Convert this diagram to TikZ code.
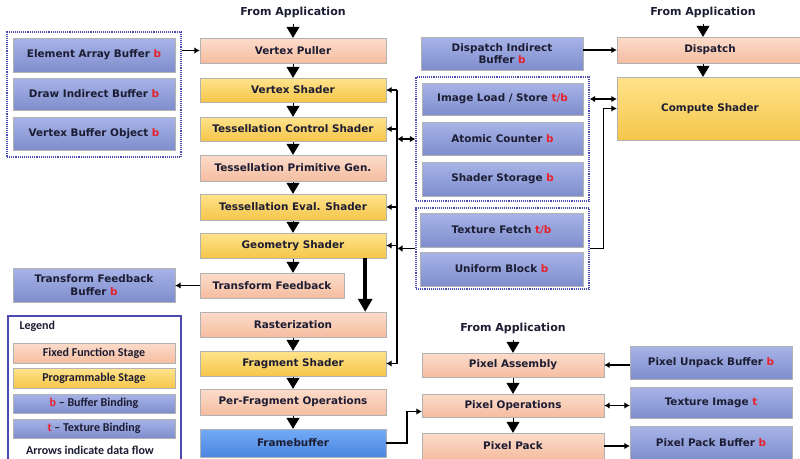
\documentclass[tikz,border=0pt]{standalone}
\usepackage{fontspec}
\setmainfont{DejaVu Sans}
\newfontfamily\legfont{Carlito}
\usetikzlibrary{arrows.meta,shadows}
\definecolor{ffTop}{HTML}{FCDCCB}
\definecolor{ffBot}{HTML}{F5BDA0}
\definecolor{prTop}{HTML}{FFE38C}
\definecolor{prBot}{HTML}{F5C64A}
\definecolor{bfTop}{HTML}{A8B4E8}
\definecolor{bfBot}{HTML}{7E8DCC}
\definecolor{fbTop}{HTML}{74ABF6}
\definecolor{fbBot}{HTML}{4A86E0}
\definecolor{redb}{HTML}{E8202A}
\definecolor{txt}{HTML}{1C1C33}
\definecolor{grpc}{HTML}{4A4AB0}
\newcommand{\rb}[1]{\textcolor{redb}{#1}}
\begin{document}
\begin{tikzpicture}[x=1pt,y=-1pt,
  box/.style={rectangle, inner sep=1pt, align=center, text=txt,
    font=\bfseries\fontsize{10.4}{12.5}\selectfont, draw=black!30, line width=0.4pt,
    drop shadow={shadow xshift=1.2pt, shadow yshift=-1.2pt, opacity=0.35}},
  ff/.style={box, top color=ffTop, bottom color=ffBot},
  pr/.style={box, top color=prTop, bottom color=prBot},
  bf/.style={box, top color=bfTop, bottom color=bfBot},
  fbx/.style={box, top color=fbTop, bottom color=fbBot},
  lg/.style={font=\legfont\bfseries\fontsize{12}{13}\selectfont},
  grp/.style={rectangle, draw=grpc, densely dotted, line width=1.1pt},
  lbl/.style={text=txt, font=\bfseries\fontsize{11}{13}\selectfont, inner sep=1pt},
  bigarr/.style={-{Triangle[width=13pt,length=11pt]}, line width=0.6pt, shorten <=1pt},
  arr/.style={-{Latex[length=5.5pt,width=6.5pt]}, line width=1.7pt},
  arrb/.style={{Latex[length=5.5pt,width=6.5pt]}-{Latex[length=5.5pt,width=6.5pt]}, line width=1.7pt},
  ]
\useasboundingbox (0,0) rectangle (800,458);
\clip (0,0) rectangle (800,458);
\fill[white] (0,0) rectangle (800,458);

% ---- left buffer group
\node[grp, minimum width=174, minimum height=125] (g1) at (94,94.5) {};
\node[bf, minimum width=162, minimum height=34] (eab) at (94,55) {Element Array Buffer \rb{b}};
\node[bf, minimum width=162, minimum height=32] (dib2) at (94,94) {Draw Indirect Buffer \rb{b}};
\node[bf, minimum width=162, minimum height=33] (vbo) at (94,133.5) {Vertex Buffer Object \rb{b}};

% ---- pipeline
\node[lbl] (fa1) at (293,12) {From Application};
\node[ff, minimum width=186, minimum height=25] (vp) at (293,50.5) {Vertex Puller};
\node[pr, minimum width=186, minimum height=24] (vs) at (293,90) {Vertex Shader};
\node[pr, minimum width=186, minimum height=24] (tcs) at (293,129) {Tessellation Control Shader};
\node[ff, minimum width=186, minimum height=26] (tpg) at (293,168) {Tessellation Primitive Gen.};
\node[pr, minimum width=186, minimum height=26] (tes) at (293,207) {Tessellation Eval. Shader};
\node[pr, minimum width=186, minimum height=25] (gs) at (293,245.5) {Geometry Shader};
\node[ff, minimum width=144, minimum height=25] (tf) at (272,285.5) {Transform Feedback};
\node[ff, minimum width=186, minimum height=25] (ras) at (293,324.5) {Rasterization};
\node[pr, minimum width=186, minimum height=25] (fs) at (293,363.5) {Fragment Shader};
\node[ff, minimum width=186, minimum height=26] (pfo) at (293,402) {Per-Fragment Operations};
\node[fbx, minimum width=186, minimum height=28] (fb) at (293,443) {Framebuffer};

\node[bf, minimum width=162, minimum height=34] (tfb) at (94,285) {Transform Feedback\\Buffer \rb{b}};

% ---- compute side
\node[bf, minimum width=162, minimum height=33] (dib) at (502,53.5) {Dispatch Indirect\\Buffer \rb{b}};
\node[lbl] (fa2) at (703,12) {From Application};
\node[ff, minimum width=186, minimum height=26] (disp) at (710,50) {Dispatch};
\node[pr, minimum width=186, minimum height=63] (cs) at (710,108.5) {Compute Shader};

\node[grp, minimum width=173, minimum height=124] (g2) at (502.5,139) {};
\node[bf, minimum width=161, minimum height=32] (ils) at (502.5,99) {Image Load / Store \rb{t/b}};
\node[bf, minimum width=161, minimum height=33] (ac) at (502.5,138.5) {Atomic Counter \rb{b}};
\node[bf, minimum width=161, minimum height=34] (ss) at (502.5,179) {Shader Storage \rb{b}};

\node[grp, minimum width=173, minimum height=81] (g3) at (502.5,248.5) {};
\node[bf, minimum width=163, minimum height=34] (tfe) at (501.5,230) {Texture Fetch \rb{t/b}};
\node[bf, minimum width=163, minimum height=34] (ub) at (501.5,269) {Uniform Block \rb{b}};

% ---- pixel side
\node[lbl] (fa3) at (513,328) {From Application};
\node[ff, minimum width=182, minimum height=24] (pa) at (513,365) {Pixel Assembly};
\node[ff, minimum width=182, minimum height=23] (po) at (513,405.5) {Pixel Operations};
\node[ff, minimum width=182, minimum height=26] (pp) at (513,446) {Pixel Pack};
\node[bf, minimum width=162, minimum height=33] (pub) at (711,362.5) {Pixel Unpack Buffer \rb{b}};
\node[bf, minimum width=162, minimum height=31] (ti) at (711,402.5) {Texture Image \rb{t}};
\node[bf, minimum width=162, minimum height=34] (ppb) at (711,443) {Pixel Pack Buffer \rb{b}};

% ---- legend
\node[rectangle, draw=grpc, line width=1.2pt, minimum width=173, minimum height=150] (leg) at (94.5,391) {};
\node[lg, text=txt, anchor=west] (legt) at (16,326) {Legend};
\node[ff, lg, minimum width=162, minimum height=20] (lff) at (94,353) {Fixed Function Stage};
\node[pr, lg, minimum width=162, minimum height=20] (lps) at (94,378) {Programmable Stage};
\node[bf, lg, minimum width=162, minimum height=19] (lbb) at (94,403.5) {\rb{b} – Buffer Binding};
\node[bf, lg, minimum width=162, minimum height=19] (ltb) at (94,428.5) {\rb{t} – Texture Binding};
\node[lg, text=txt] (lad) at (90,450) {Arrows indicate data flow};

% ---- pipeline triangles
\draw[bigarr, shorten <=5pt] (fa1.south) -- (vp.north);
\draw[bigarr] (vp.south) -- (vs.north);
\draw[bigarr] (vs.south) -- (tcs.north);
\draw[bigarr] (tcs.south) -- (tpg.north);
\draw[bigarr] (tpg.south) -- (tes.north);
\draw[bigarr] (tes.south) -- (gs.north);
\draw[bigarr] (gs.south) -- (gs.south |- tf.north);
\draw[bigarr] (ras.south) -- (fs.north);
\draw[bigarr] (fs.south) -- (pfo.north);
\draw[bigarr] (pfo.south) -- (fb.north);
\draw[-{Triangle[width=14pt,length=13pt]}, line width=3.5pt]
  ([xshift=-21pt]gs.south east) -- ([xshift=-21pt]ras.north east);

\draw[bigarr, shorten <=5pt] (fa2.south) -- (fa2.south |- disp.north);
\draw[bigarr] (disp.south -| fa2.south) -- (cs.north -| fa2.south);
\draw[bigarr, shorten <=5pt] (fa3.south) -- (pa.north);
\draw[bigarr] (pa.south) -- (po.north);
\draw[bigarr] (po.south) -- (pp.north);

% ---- buffer connectors
\coordinate (bus) at (397,0);
\draw[arr] (g1.east |- vp.west) -- (vp.west);
\draw[arr] (dib.east |- disp.west) -- (disp.west);
\draw[arr] (tf.west) -- (tfb.east |- tf.west);
\draw[line width=1.7pt] (bus |- vs.east) -- (bus |- fs.east);
\draw[arr] (bus |- vs.east) -- (vs.east);
\draw[arr] (bus |- tcs.east) -- (tcs.east);
\draw[arr] (bus |- tes.east) -- (tes.east);
\draw[arr] (bus |- gs.east) -- (gs.east);
\draw[arr] (bus |- fs.east) -- (fs.east);
\draw[arrb] (bus |- g2.west) -- (g2.west);
\draw[arr] (g3.west) -- (bus |- g3.west);
\draw[arrb] (g2.east |- ils.east) -- (cs.west |- ils.east);
\draw[arr] (g3.east) -- ++(14,0) |- (cs.west);
\draw[arr] (fb.east) -- ++(21,0) |- ([yshift=-6pt]po.west);
\draw[arr] (pub.west |- pa.east) -- (pa.east);
\draw[arrb] (po.east) -- (po.east -| ti.west);
\draw[arr] (pp.east) -- (pp.east -| ppb.west);
\end{tikzpicture}
\end{document}
